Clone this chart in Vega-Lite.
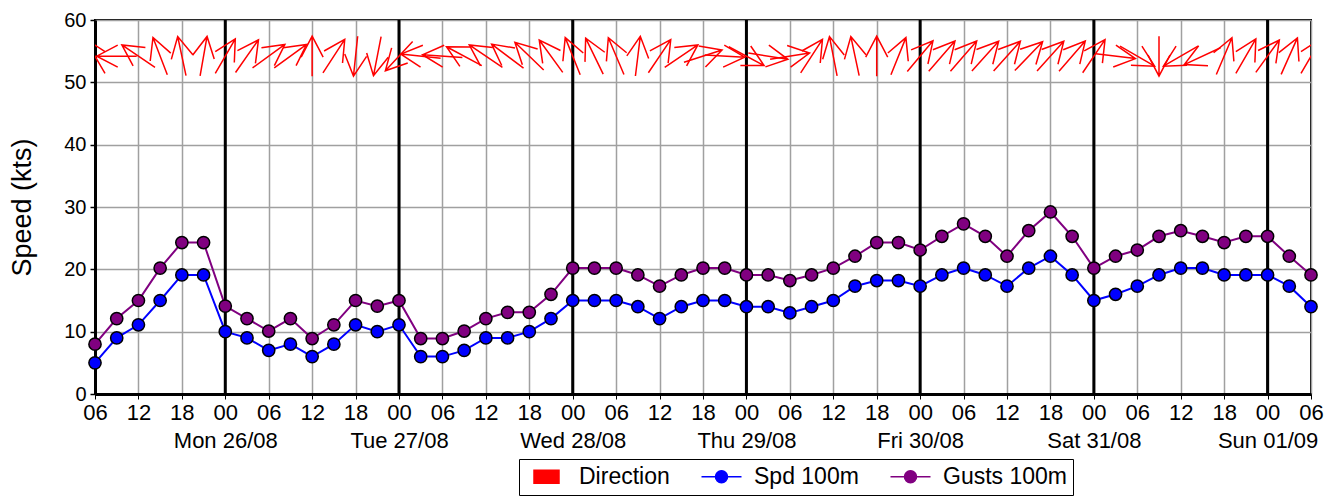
{
"$schema": "https://vega.github.io/schema/vega-lite/v6.json",
"width": 1216, "height": 374,
"autosize": {"type": "none"},
"padding": {"left": 95, "top": 20, "right": 21, "bottom": 102},
"config": {"font": "Liberation Sans", "view": {"stroke": "black", "strokeWidth": 2}, "axis": {"labelColor": "black", "titleColor": "black"}},
"datasets": {
"wind": [
{"t":"2024-08-25T06:00:00Z","spd":5,"gust":8,"dir":330},
{"t":"2024-08-25T09:00:00Z","spd":9,"gust":12.1,"dir":270},
{"t":"2024-08-25T12:00:00Z","spd":11.1,"gust":15,"dir":304},
{"t":"2024-08-25T15:00:00Z","spd":15,"gust":20.2,"dir":339},
{"t":"2024-08-25T18:00:00Z","spd":19.1,"gust":24.3,"dir":348},
{"t":"2024-08-25T21:00:00Z","spd":19.1,"gust":24.3,"dir":10},
{"t":"2024-08-26T00:00:00Z","spd":10,"gust":14.1,"dir":30},
{"t":"2024-08-26T03:00:00Z","spd":9,"gust":12.1,"dir":35},
{"t":"2024-08-26T06:00:00Z","spd":7,"gust":10.1,"dir":54},
{"t":"2024-08-26T09:00:00Z","spd":8,"gust":12.1,"dir":54},
{"t":"2024-08-26T12:00:00Z","spd":6,"gust":8.9,"dir":0},
{"t":"2024-08-26T15:00:00Z","spd":8,"gust":11.1,"dir":33},
{"t":"2024-08-26T18:00:00Z","spd":11.1,"gust":15,"dir":186},
{"t":"2024-08-26T21:00:00Z","spd":10,"gust":14.1,"dir":191},
{"t":"2024-08-27T00:00:00Z","spd":11.1,"gust":15,"dir":223},
{"t":"2024-08-27T03:00:00Z","spd":6,"gust":8.9,"dir":276},
{"t":"2024-08-27T06:00:00Z","spd":6,"gust":8.9,"dir":274},
{"t":"2024-08-27T09:00:00Z","spd":7,"gust":10.1,"dir":298},
{"t":"2024-08-27T12:00:00Z","spd":9,"gust":12.1,"dir":304},
{"t":"2024-08-27T15:00:00Z","spd":9,"gust":13.1,"dir":307},
{"t":"2024-08-27T18:00:00Z","spd":10,"gust":13.1,"dir":314},
{"t":"2024-08-27T21:00:00Z","spd":12.1,"gust":16,"dir":324},
{"t":"2024-08-28T00:00:00Z","spd":15,"gust":20.2,"dir":338},
{"t":"2024-08-28T03:00:00Z","spd":15,"gust":20.2,"dir":334},
{"t":"2024-08-28T06:00:00Z","spd":15,"gust":20.2,"dir":337},
{"t":"2024-08-28T09:00:00Z","spd":14,"gust":19.1,"dir":7},
{"t":"2024-08-28T12:00:00Z","spd":12.1,"gust":17.3,"dir":34},
{"t":"2024-08-28T15:00:00Z","spd":14,"gust":19.1,"dir":56},
{"t":"2024-08-28T18:00:00Z","spd":15,"gust":20.2,"dir":72},
{"t":"2024-08-28T21:00:00Z","spd":15,"gust":20.2,"dir":93},
{"t":"2024-08-29T00:00:00Z","spd":14,"gust":19.1,"dir":118},
{"t":"2024-08-29T03:00:00Z","spd":14,"gust":19.1,"dir":99},
{"t":"2024-08-29T06:00:00Z","spd":13,"gust":18.2,"dir":81},
{"t":"2024-08-29T09:00:00Z","spd":14,"gust":19.1,"dir":33},
{"t":"2024-08-29T12:00:00Z","spd":15,"gust":20.2,"dir":349},
{"t":"2024-08-29T15:00:00Z","spd":17.3,"gust":22.1,"dir":348},
{"t":"2024-08-29T18:00:00Z","spd":18.2,"gust":24.3,"dir":0},
{"t":"2024-08-29T21:00:00Z","spd":18.2,"gust":24.3,"dir":22},
{"t":"2024-08-30T00:00:00Z","spd":17.3,"gust":23.1,"dir":40},
{"t":"2024-08-30T03:00:00Z","spd":19.1,"gust":25.3,"dir":41},
{"t":"2024-08-30T06:00:00Z","spd":20.2,"gust":27.3,"dir":41},
{"t":"2024-08-30T09:00:00Z","spd":19.1,"gust":25.3,"dir":42},
{"t":"2024-08-30T12:00:00Z","spd":17.3,"gust":22.1,"dir":42},
{"t":"2024-08-30T15:00:00Z","spd":20.2,"gust":26.2,"dir":44},
{"t":"2024-08-30T18:00:00Z","spd":22.1,"gust":29.2,"dir":42},
{"t":"2024-08-30T21:00:00Z","spd":19.1,"gust":25.3,"dir":41},
{"t":"2024-08-31T00:00:00Z","spd":15,"gust":20.2,"dir":34},
{"t":"2024-08-31T03:00:00Z","spd":16,"gust":22.1,"dir":97},
{"t":"2024-08-31T06:00:00Z","spd":17.3,"gust":23.1,"dir":120},
{"t":"2024-08-31T09:00:00Z","spd":19.1,"gust":25.3,"dir":180},
{"t":"2024-08-31T12:00:00Z","spd":20.2,"gust":26.2,"dir":240},
{"t":"2024-08-31T15:00:00Z","spd":20.2,"gust":25.3,"dir":245},
{"t":"2024-08-31T18:00:00Z","spd":19.1,"gust":24.3,"dir":23},
{"t":"2024-08-31T21:00:00Z","spd":19.1,"gust":25.3,"dir":30},
{"t":"2024-09-01T00:00:00Z","spd":19.1,"gust":25.3,"dir":36},
{"t":"2024-09-01T03:00:00Z","spd":17.3,"gust":22.1,"dir":24},
{"t":"2024-09-01T06:00:00Z","spd":14,"gust":19.1,"dir":30}
],
"days": [
{"t":"2024-08-26T00:00:00Z"},
{"t":"2024-08-27T00:00:00Z"},
{"t":"2024-08-28T00:00:00Z"},
{"t":"2024-08-29T00:00:00Z"},
{"t":"2024-08-30T00:00:00Z"},
{"t":"2024-08-31T00:00:00Z"},
{"t":"2024-09-01T00:00:00Z"}
]
},
"layer": [
{
 "data": {"name": "days"},
 "mark": {"type": "rule", "color": "black", "strokeWidth": 3},
 "encoding": {
  "x": {"field": "t", "type": "temporal",
        "scale": {"type": "utc", "nice": false},
        "axis": {"values": [1724565600000,1724576400000,1724587200000,1724598000000,1724608800000,1724619600000,1724630400000,1724641200000,1724652000000,1724662800000,1724673600000,1724684400000,1724695200000,1724706000000,1724716800000,1724727600000,1724738400000,1724749200000,1724760000000,1724770800000,1724781600000,1724792400000,1724803200000,1724814000000,1724824800000,1724835600000,1724846400000,1724857200000,1724868000000,1724878800000,1724889600000,1724900400000,1724911200000,1724922000000,1724932800000,1724943600000,1724954400000,1724965200000,1724976000000,1724986800000,1724997600000,1725008400000,1725019200000,1725030000000,1725040800000,1725051600000,1725062400000,1725073200000,1725084000000,1725094800000,1725105600000,1725116400000,1725127200000,1725138000000,1725148800000,1725159600000,1725170400000],
                 "grid": true, "gridColor": "#a0a0a0", "gridWidth": 1.5, "gridOpacity": 1,
                 "domainColor": "black", "domainWidth": 3, "tickColor": "black", "tickSize": 5,
                 "labelFontSize": 22, "labelPadding": 3, "labelLineHeight": 28, "labelOverlap": false, "labelBound": false, "labelFlush": false, "title": null,
                 "labelExpr": "utchours(datum.value) % 6 != 0 ? '' : (utchours(datum.value) == 0 ? [utcFormat(datum.value, '%H'), utcFormat(datum.value, '%a %d/%m')] : utcFormat(datum.value, '%H'))"}}
 }
},
{
 "data": {"name": "wind"},
 "mark": {"type": "line", "strokeWidth": 2},
 "encoding": {
  "x": {"field": "t", "type": "temporal"},
  "y": {"field": "spd", "type": "quantitative", "scale": {"domain": [0, 60], "nice": false},
        "axis": {"values": [0, 2.5, 5, 7.5, 10, 12.5, 15, 17.5, 20, 22.5, 25, 27.5, 30, 32.5, 35, 37.5, 40, 42.5, 45, 47.5, 50, 52.5, 55, 57.5, 60],
                 "grid": true, "gridColor": "#a0a0a0", "gridWidth": 1.5,
                 "gridOpacity": {"condition": {"test": "datum.value % 10 != 0", "value": 0}, "value": 1},
                 "labelExpr": "datum.value % 10 == 0 ? datum.label : ''",
                 "domainColor": "black", "domainWidth": 3, "tickColor": "black", "tickSize": 5, "tickWidth": 1.5,
                 "labelFontSize": 20, "labelPadding": 4, "labelOverlap": false,
                 "title": "Speed (kts)", "titleFontSize": 27, "titleFontWeight": "normal", "titlePadding": 27}},
  "color": {"datum": "Spd 100m", "type": "nominal",
            "scale": {"domain": ["Direction", "Spd 100m", "Gusts 100m"], "range": ["#ff0000", "#0000ff", "#800080"]},
            "legend": {"orient": "none", "legendX": 424, "legendY": 439, "direction": "horizontal", "title": null,
                       "labelFontSize": 23, "labelFont": "Liberation Sans", "labelColor": "black", "labelLimit": 300, "labelOffset": 31,
                       "columnPadding": 28, "symbolSize": 400, "strokeColor": "black", "fillColor": "white", "padding": 6,
                       "encode": {"symbols": {"update": {
                          "shape": {"signal": "datum.value === 'Direction' ? 'M-0.25,-0.65H2.25V0.65H-0.25Z' : 'M-1,0H0.4M1.6,0H3M0.4,0A0.6,0.6 0 1,1 1.6,0A0.6,0.6 0 1,1 0.4,0Z'"},
                          "fill": {"signal": "scale('color', datum.value)"},
                          "stroke": {"signal": "datum.value === 'Direction' ? 'black' : scale('color', datum.value)"},
                          "strokeWidth": {"value": 1.5}, "opacity": {"value": 1}, "fillOpacity": {"value": 1}}}}}}
 }
},
{
 "data": {"name": "wind"},
 "mark": {"type": "line", "strokeWidth": 2},
 "encoding": {
  "x": {"field": "t", "type": "temporal"},
  "y": {"field": "gust", "type": "quantitative"},
  "color": {"datum": "Gusts 100m", "type": "nominal"}
 }
},
{
 "data": {"name": "wind"},
 "mark": {"type": "point", "filled": true, "size": 150, "stroke": "black", "strokeWidth": 1.5, "opacity": 1},
 "encoding": {
  "x": {"field": "t", "type": "temporal"},
  "y": {"field": "spd", "type": "quantitative"},
  "color": {"datum": "Spd 100m", "type": "nominal"}
 }
},
{
 "data": {"name": "wind"},
 "mark": {"type": "point", "filled": true, "size": 150, "stroke": "black", "strokeWidth": 1.5, "opacity": 1},
 "encoding": {
  "x": {"field": "t", "type": "temporal"},
  "y": {"field": "gust", "type": "quantitative"},
  "color": {"datum": "Gusts 100m", "type": "nominal"}
 }
},
{
 "data": {"name": "wind"},
 "mark": {"type": "point", "filled": false, "clip": true, "size": 1600, "strokeWidth": 1.5, "opacity": 1,
          "shape": "M0,1L0,-1M-0.55,0.05L0,-1L0.55,0.05"},
 "encoding": {
  "x": {"field": "t", "type": "temporal"},
  "y": {"datum": 54.2, "type": "quantitative"},
  "angle": {"field": "dir", "type": "quantitative", "scale": {"domain": [0, 360], "range": [0, 360]}},
  "color": {"datum": "Direction", "type": "nominal"}
 }
}
]
}
